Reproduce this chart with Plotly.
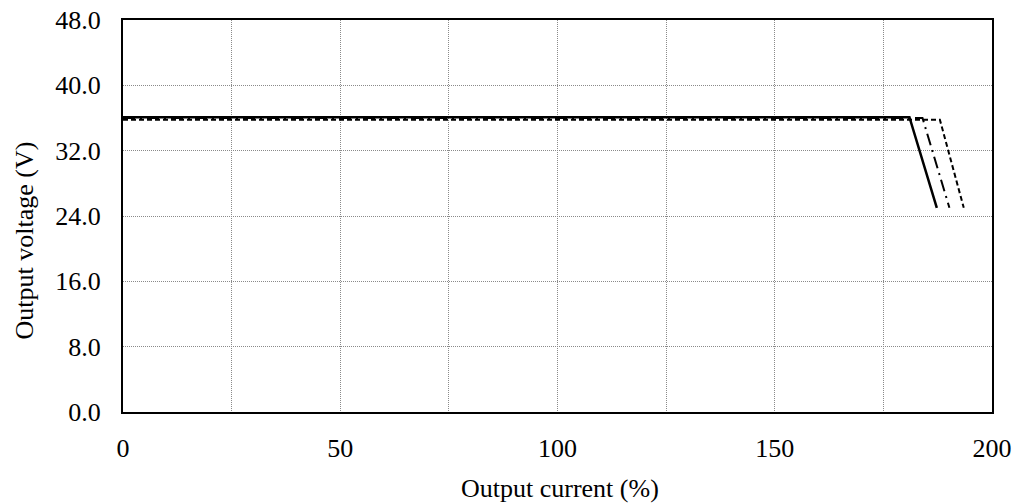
import plotly.graph_objects as go

# Output characteristic curves: constant voltage, then current-limit foldback
curve_a_x = [0, 181.0, 187.3]
curve_a_y = [36.1, 36.1, 25.0]

curve_b_x = [0, 184.0, 190.2]
curve_b_y = [36.0, 36.0, 25.0]

curve_c_x = [0, 188.0, 193.5]
curve_c_y = [35.8, 35.8, 25.0]

x_tick_vals = [0, 25, 50, 75, 100, 125, 150, 175, 200]
x_tick_text = ["0", "", "50", "", "100", "", "150", "", "200"]
y_tick_vals = [0, 8, 16, 24, 32, 40, 48]
y_tick_text = ["0.0", "8.0", "16.0", "24.0", "32.0", "40.0", "48.0"]

FONT = "Liberation Serif, Times New Roman, serif"
GRID = dict(showgrid=True, gridcolor="#8a8a8a", gridwidth=1, griddash="1px,1px")
AXIS = dict(showline=True, linecolor="black", linewidth=2, mirror=True,
            zeroline=False, ticks="", automargin=False)

fig = go.Figure()
fig.add_trace(go.Scatter(x=curve_c_x, y=curve_c_y, mode="lines",
                         line=dict(color="black", width=2, dash="5px,3px")))
fig.add_trace(go.Scatter(x=curve_b_x, y=curve_b_y, mode="lines",
                         line=dict(color="black", width=2, dash="12px,5px,2px,5px")))
fig.add_trace(go.Scatter(x=curve_a_x, y=curve_a_y, mode="lines",
                         line=dict(color="black", width=2.5)))

fig.update_layout(
    width=1019, height=504,
    margin=dict(l=123, r=27, t=20, b=92),
    paper_bgcolor="white", plot_bgcolor="white",
    showlegend=False,
    font=dict(family=FONT, size=26, color="black"),
)
fig.update_xaxes(range=[0, 200], tickvals=x_tick_vals, ticktext=x_tick_text,
                 ticklabelstandoff=12, **GRID, **AXIS)
fig.update_yaxes(range=[0, 48], tickvals=y_tick_vals, ticktext=y_tick_text,
                 ticklabelstandoff=15, **GRID, **AXIS)

# Axis titles
fig.add_annotation(
    text="Output current (%)", showarrow=False,
    xref="paper", yref="paper", x=0.5024, y=-0.194,
    xanchor="center", yanchor="middle",
    font=dict(family=FONT, size=26, color="black"),
)
fig.add_annotation(
    text="Output voltage (V)", textangle=-90, showarrow=False,
    xref="paper", yref="paper", x=-0.1139, y=0.4375,
    xanchor="center", yanchor="middle",
    font=dict(family=FONT, size=26, color="black"),
)

fig.write_html("out.html")
